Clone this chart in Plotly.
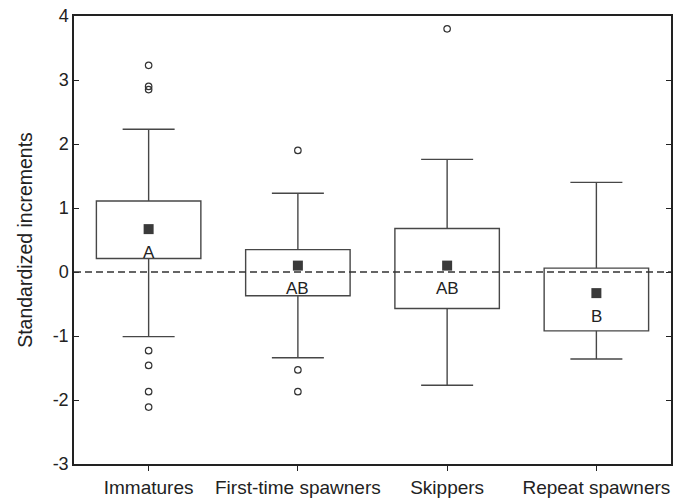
import plotly.graph_objects as go

categories = ["Immatures", "First-time spawners", "Skippers", "Repeat spawners"]
means = [0.67, 0.10, 0.10, -0.33]
q1 = [0.21, -0.37, -0.57, -0.92]
q3 = [1.11, 0.35, 0.68, 0.06]
whisker_low = [-1.01, -1.34, -1.77, -1.36]
whisker_high = [2.23, 1.23, 1.76, 1.40]
letters = ["A", "AB", "AB", "B"]
outlier_groups = ["Immatures"] * 7 + ["First-time spawners"] * 3 + ["Skippers"]
outlier_values = [3.23, 2.90, 2.85, -1.23, -1.46, -1.87, -2.11, 1.90, -1.53, -1.87, 3.80]
y_tick_values = [-3, -2, -1, 0, 1, 2, 3, 4]
y_tick_labels = ["-3", "-2", "-1", "0", "1", "2", "3", "4"]

box_color = "#474747"
text_color = "#222222"
axis_color = "#222222"
font_family = "Liberation Sans, Arial, sans-serif"

fig = go.Figure()

# Whisker lines (box edge to whisker end)
wx, wy = [], []
for c, lo, b, t, hi in zip(categories, whisker_low, q1, q3, whisker_high):
    wx += [c, c, None, c, c, None]
    wy += [t, hi, None, b, lo, None]
fig.add_trace(go.Scatter(
    x=wx, y=wy, mode="lines",
    line=dict(color=box_color, width=1.4),
    hoverinfo="skip", showlegend=False,
))

# Whisker caps
fig.add_trace(go.Scatter(
    x=categories + categories, y=whisker_high + whisker_low, mode="markers",
    marker=dict(size=1, color="rgba(0,0,0,0)"),
    error_y=dict(type="data", array=[0] * 8, color=box_color, thickness=1.4, width=26),
    hoverinfo="skip", showlegend=False,
))

# Boxes (25-75 %)
fig.add_trace(go.Bar(
    x=categories,
    y=[h - l for h, l in zip(q3, q1)],
    base=q1,
    width=0.7,
    marker=dict(color="white", line=dict(color=box_color, width=1.4)),
    hoverinfo="skip",
    showlegend=False,
))

# Outliers
fig.add_trace(go.Scatter(
    x=outlier_groups, y=outlier_values, mode="markers",
    marker=dict(symbol="circle-open", size=6.5, color="#333333", line=dict(width=1.2)),
    hoverinfo="skip", showlegend=False,
))

# Means
fig.add_trace(go.Scatter(
    x=categories, y=means, mode="markers",
    marker=dict(symbol="square", size=10, color="#3a3a3a"),
    hoverinfo="skip", showlegend=False,
))

# Group letters under the means
for c, m, t in zip(categories, means, letters):
    fig.add_annotation(x=c, y=m, text=t, showarrow=False, yshift=-23,
                       font=dict(size=17, color=text_color, family=font_family))

fig.add_hline(y=0, line=dict(color="#333333", width=1.3, dash="7px,4px"), layer="above")

fig.update_layout(
    width=687, height=498,
    margin=dict(l=74, r=16, t=16, b=34, autoexpand=False),
    plot_bgcolor="white", paper_bgcolor="white",
    font=dict(family=font_family, size=19, color=text_color),
    barmode="overlay",
    xaxis=dict(
        type="category", categoryorder="array", categoryarray=categories,
        range=[-0.5, 3.5],
        showgrid=False, zeroline=False,
        showline=True, linecolor=axis_color, linewidth=1.5, mirror=True,
        ticks="outside", ticklen=5, tickcolor=axis_color,
        tickfont=dict(size=19, color=text_color),
        ticklabeloverflow="allow",
        automargin=False,
    ),
    yaxis=dict(
        range=[-3, 4],
        tickvals=y_tick_values, ticktext=y_tick_labels,
        showgrid=False, zeroline=False,
        showline=True, linecolor=axis_color, linewidth=1.5, mirror="ticks",
        ticks="inside", ticklen=5, tickcolor=axis_color,
        tickfont=dict(size=18, color=text_color),
        ticklabeloverflow="allow",
        title=dict(text="Standardized increments", font=dict(size=19.5, color=text_color), standoff=15),
        automargin=False,
    ),
)

fig.write_html(
    "out.html",
    config={"displayModeBar": False},
    post_script="document.body.style.margin='0';",
)
